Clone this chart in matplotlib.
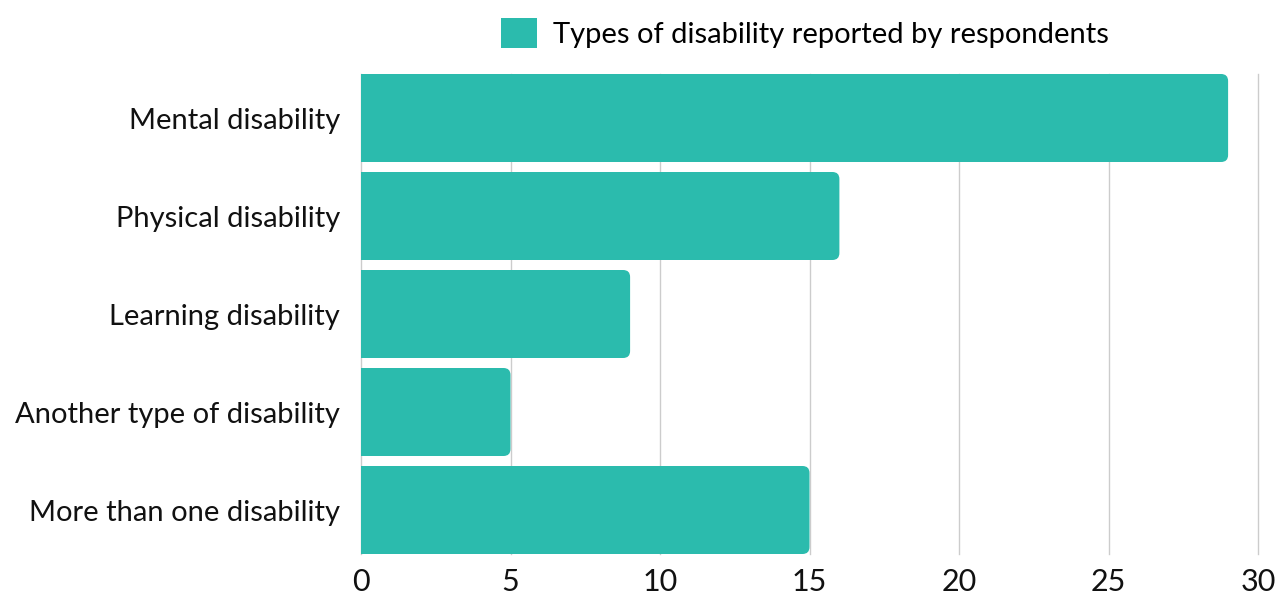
"""
Horizontal bar chart of disability types reported by respondents.
"""

import matplotlib

matplotlib.use("Agg")

import matplotlib.pyplot as plt
from matplotlib.patches import FancyBboxPatch, Patch, Rectangle

# =============================================================================
# DATA
# =============================================================================

categories = [
    "Mental disability",
    "Physical disability",
    "Learning disability",
    "Another type of disability",
    "More than one disability",
]
counts = [29, 16, 9, 5, 15]
series_label = "Types of disability reported by respondents"
x_ticks = [0, 5, 10, 15, 20, 25, 30]

BAR_COLOR = "#2bbbad"
GRID_COLOR = "#cccccc"
TEXT_COLOR = "#111111"

plt.rcParams["font.family"] = ["Lato", "DejaVu Sans"]

# =============================================================================
# FIGURE
# =============================================================================

FIG_W, FIG_H = 1288, 594
AX_RECT = [361 / FIG_W, 40 / FIG_H, 897 / FIG_W, 480 / FIG_H]

figure = plt.figure(figsize=(FIG_W / 100, FIG_H / 100), dpi=100)
axis = figure.add_axes(AX_RECT)

x_max = 30
n = len(categories)
bar_height = 88 / 98
axis.set_xlim(0, x_max)
axis.set_ylim(n - 1 + bar_height / 2, -bar_height / 2)

# pixel -> data conversions for the rounded corners
width_px = AX_RECT[2] * FIG_W
height_px = AX_RECT[3] * FIG_H
x_per_px = x_max / width_px
y_per_px = (n - 1 + bar_height) / height_px
radius = 7 * x_per_px
aspect = y_per_px / x_per_px

for index, value in enumerate(counts):
    y0 = index - bar_height / 2
    rounded = FancyBboxPatch(
        (0, y0),
        value,
        bar_height,
        boxstyle=f"round,pad=0,rounding_size={radius}",
        mutation_aspect=aspect,
        facecolor=BAR_COLOR,
        edgecolor="none",
        zorder=3,
    )
    axis.add_patch(rounded)
    square = Rectangle(
        (0, y0),
        min(radius * 2, value),
        bar_height,
        facecolor=BAR_COLOR,
        edgecolor="none",
        zorder=3,
    )
    axis.add_patch(square)

axis.set_yticks(range(n))
axis.set_yticklabels(categories, fontsize=21, color=TEXT_COLOR)
axis.set_xticks(x_ticks)
axis.set_xticklabels([str(t) for t in x_ticks], fontsize=22, color=TEXT_COLOR)

axis.tick_params(axis="y", length=0, pad=15)
axis.tick_params(axis="x", length=0, pad=10)

axis.grid(axis="x", color=GRID_COLOR, linewidth=1, zorder=0)
axis.set_axisbelow(True)
for gridline in axis.get_xgridlines():
    gridline.set_clip_on(False)
for spine in axis.spines.values():
    spine.set_visible(False)

handle = Patch(facecolor=BAR_COLOR, edgecolor="none")
figure.legend(
    [handle],
    [series_label],
    loc="upper center",
    bbox_to_anchor=(0.625, 1.0),
    frameon=False,
    fontsize=21,
    handlelength=1.25,
    handleheight=1.25,
    handletextpad=0.55,
    borderaxespad=0.2,
)

figure.savefig("out.png", dpi=100)
